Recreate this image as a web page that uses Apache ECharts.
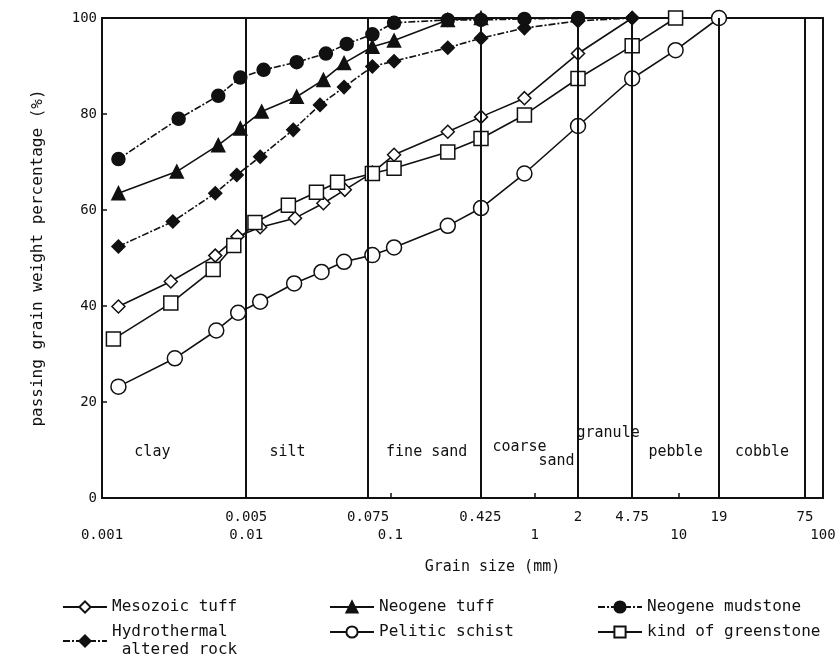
<!DOCTYPE html>
<html>
<head>
<meta charset="utf-8">
<title>Grain size accumulation curves</title>
<script src="https://cdn.jsdelivr.net/npm/echarts@6/dist/echarts.min.js"></script>
<style>
  html, body { margin: 0; padding: 0; background: #fff; }
  #chart { width: 840px; height: 663px; }
</style>
</head>
<body>
<div id="chart"></div>
<script>
// [grain size (mm), passing weight %]
const mesozoicTuff = [[0.0013, 39.9], [0.0030, 45.1], [0.0061, 50.5], [0.0087, 54.5], [0.0125, 56.4], [0.0218, 58.3], [0.0343, 61.4], [0.0483, 64.2], [0.075, 67.8], [0.106, 71.5], [0.25, 76.3], [0.425, 79.4], [0.85, 83.3], [2, 92.6], [4.75, 100]];
const hydrothermal = [[0.0013, 52.4], [0.0031, 57.6], [0.0061, 63.5], [0.0086, 67.3], [0.0125, 71.1], [0.0212, 76.7], [0.0325, 81.9], [0.0477, 85.6], [0.075, 89.9], [0.106, 91.0], [0.25, 93.8], [0.425, 95.8], [0.85, 97.9], [2, 99.4], [4.75, 100]];
const neogeneTuff = [[0.0013, 63.5], [0.0033, 68.0], [0.0064, 73.5], [0.0091, 77.0], [0.0128, 80.5], [0.0224, 83.6], [0.0343, 87.1], [0.0477, 90.6], [0.075, 94.0], [0.106, 95.3], [0.25, 99.6], [0.425, 100]];
const pelitic = [[0.0013, 23.2], [0.0032, 29.1], [0.0062, 34.9], [0.0088, 38.6], [0.0125, 40.9], [0.0215, 44.7], [0.0333, 47.1], [0.0477, 49.2], [0.075, 50.6], [0.106, 52.2], [0.25, 56.7], [0.425, 60.4], [0.85, 67.6], [2, 77.5], [4.75, 87.4], [9.5, 93.3], [19, 100]];
const mudstone = [[0.0013, 70.6], [0.0034, 79.0], [0.0064, 83.8], [0.0091, 87.6], [0.0132, 89.2], [0.0224, 90.8], [0.0357, 92.6], [0.0498, 94.6], [0.075, 96.6], [0.106, 99.0], [0.25, 99.6], [0.425, 99.6], [0.85, 99.8], [2, 100]];
const greenstone = [[0.0012, 33.1], [0.0030, 40.6], [0.0059, 47.6], [0.0082, 52.6], [0.0115, 57.4], [0.0196, 61.0], [0.0307, 63.7], [0.0430, 65.8], [0.075, 67.6], [0.106, 68.7], [0.25, 72.1], [0.425, 74.9], [0.85, 79.8], [2, 87.4], [4.75, 94.2], [9.5, 100]];

const boundaries = [0.005, 0.075, 0.425, 2, 4.75, 19, 75];
const boundaryLabels = ['0.005', '0.075', '0.425', '2', '4.75', '19', '75'];
const zoneNames = ['clay', 'silt', 'fine sand', 'coarse sand', 'granule', 'pebble', 'cobble'];

const ink = '#111';
const font = 'DejaVu Sans Mono';

// zone labels sit in the middle (log scale) of each zone
const edges = [0.001].concat(boundaries);
const zoneMarks = [];
zoneNames.forEach(function (name, i) {
  const c = Math.sqrt(edges[i] * edges[i + 1]);
  if (name === 'coarse sand') {
    zoneMarks.push({ coord: [c, 9.5], name: 'coarse', label: { offset: [-10, -5] } });
    zoneMarks.push({ coord: [c, 9.5], name: 'sand', label: { offset: [27, 9] } });
  } else if (name === 'granule') {
    zoneMarks.push({ coord: [c, 9.5], name: name, label: { offset: [3, -19] } });
  } else {
    zoneMarks.push({ coord: [c, 9.5], name: name });
  }
});

function curve(name, data, symbol, filled, size, dashed) {
  return {
    name: name,
    type: 'line',
    data: data,
    symbol: symbol,
    symbolSize: size,
    showAllSymbol: true,
    itemStyle: { color: filled ? ink : '#fff', borderColor: ink, borderWidth: 1.5 },
    lineStyle: { color: ink, width: 1.6, type: dashed ? [7, 2, 2, 2] : 'solid' },
    emphasis: { disabled: true },
    z: 3
  };
}

function legendColumn(left, names) {
  return {
    left: left, top: 598, height: 70, padding: 0,
    orient: 'vertical', itemWidth: 44, itemHeight: 14, itemGap: 7,
    textStyle: { fontFamily: font, fontSize: 16, color: ink, lineHeight: 18 },
    data: names
  };
}

const chart = echarts.init(document.getElementById('chart'));
chart.setOption({
  backgroundColor: '#fff',
  animation: false,
  textStyle: { fontFamily: font, color: ink },
  grid: { left: 102, right: 17, top: 18, bottom: 165, show: true, borderColor: ink, borderWidth: 2 },
  xAxis: {
    type: 'log',
    logBase: 10,
    min: 0.001,
    max: 100,
    name: 'Grain size (mm)',
    nameLocation: 'middle',
    nameGap: 62,
    nameTextStyle: { fontFamily: font, fontSize: 15, color: ink, padding: [0, 0, 0, 60] },
    axisLine: { lineStyle: { color: ink, width: 2 } },
    axisTick: { inside: true, length: 5, lineStyle: { color: ink, width: 1.5 } },
    axisLabel: {
      margin: 30, fontFamily: font, fontSize: 14, color: ink,
      showMinLabel: true, showMaxLabel: true,
      formatter: function (v) { return String(v); }
    },
    splitLine: { show: false },
    minorTick: { show: false }
  },
  yAxis: {
    type: 'value',
    min: 0,
    max: 100,
    interval: 20,
    name: 'passing grain weight percentage (%)',
    nameLocation: 'middle',
    nameGap: 56,
    nameTextStyle: { fontFamily: font, fontSize: 16, color: ink },
    axisLine: { show: true, lineStyle: { color: ink, width: 2 } },
    axisTick: { show: true, inside: true, length: 5, lineStyle: { color: ink, width: 1.5 } },
    axisLabel: { margin: 5, fontFamily: font, fontSize: 14, color: ink },
    splitLine: { show: false }
  },
  legend: [
    legendColumn(62, ['Mesozoic tuff', 'Hydrothermal\n altered rock']),
    legendColumn(329, ['Neogene tuff', 'Pelitic schist']),
    legendColumn(597, ['Neogene mudstone', 'kind of greenstone'])
  ],
  series: [
    {
      name: 'zones',
      type: 'line',
      data: [],
      silent: true,
      markLine: {
        symbol: 'none',
        silent: true,
        lineStyle: { color: ink, width: 2, type: 'solid' },
        label: {
          show: true, position: 'start', distance: 12,
          fontFamily: font, fontSize: 14, color: ink,
          formatter: function (p) { return p.name; }
        },
        data: boundaries.map(function (b, i) { return { xAxis: b, name: boundaryLabels[i] }; })
      },
      markPoint: {
        symbol: 'circle',
        symbolSize: 0,
        silent: true,
        label: {
          show: true, position: 'inside', fontFamily: font, fontSize: 15, color: ink,
          formatter: function (p) { return p.name; }
        },
        data: zoneMarks
      }
    },
    curve('Mesozoic tuff', mesozoicTuff, 'diamond', false, 13, false),
    curve('Hydrothermal\n altered rock', hydrothermal, 'diamond', true, 13, true),
    curve('Neogene tuff', neogeneTuff, 'triangle', true, 13, false),
    curve('Neogene mudstone', mudstone, 'circle', true, 13, true),
    curve('Pelitic schist', pelitic, 'circle', false, 15, false),
    curve('kind of greenstone', greenstone, 'rect', false, 14, false)
  ]
});
</script>
</body>
</html>
